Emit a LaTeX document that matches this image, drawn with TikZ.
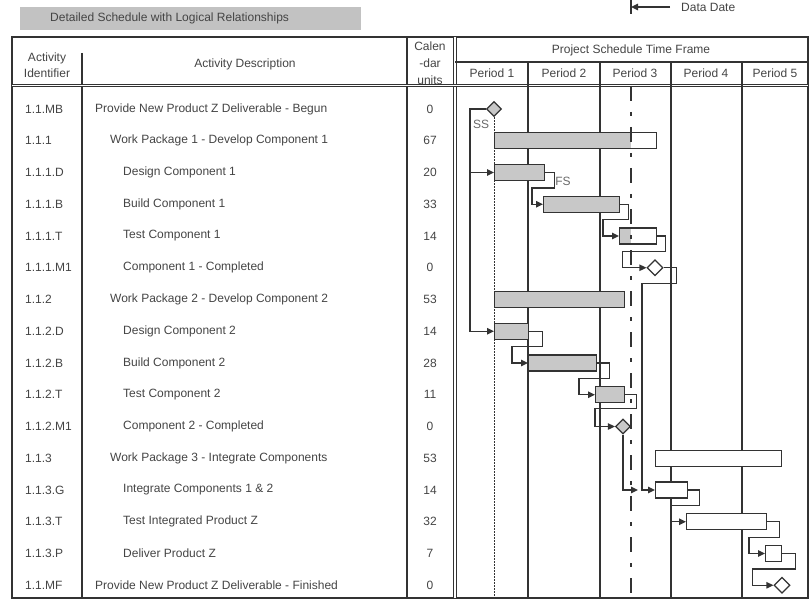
\documentclass[tikz,border=0pt]{standalone}
\usepackage{fontspec}
\setmainfont{Liberation Sans}
\usetikzlibrary{arrows.meta,calc,shapes.geometric}

\definecolor{ink}{HTML}{333333}
\definecolor{txt}{HTML}{444444}
\definecolor{barfill}{HTML}{C8C8C8}
\definecolor{titlefill}{HTML}{C2C2C2}

\begin{document}
\begin{tikzpicture}[x=1pt,y=-1pt,
  font=\fontsize{12}{14}\selectfont,
  every node/.style={text=txt, inner sep=0pt},
  gridline/.style={draw=ink, line width=1.7pt},
  dblline/.style={draw=ink, line width=0.9pt, double=white, double distance=1.4pt},
  periodline/.style={draw=ink, line width=1.3pt},
  bar/.style={draw=ink, line width=1.4pt, minimum height=16pt, anchor=west, inner sep=0pt},
  graybar/.style={bar, fill=barfill},
  whitebar/.style={bar, fill=white},
  ms/.style={diamond, draw=ink, line width=1.3pt, minimum size=15pt, inner sep=0pt},
  link/.style={draw=ink, line width=1.3pt, -{Triangle[length=7pt,width=6.5pt]}},
  datadate/.style={draw=ink, line width=1.3pt, dash pattern=on 15pt off 11pt on 4pt off 11pt},
  startline/.style={draw=ink, line width=1pt, dash pattern=on 1.5pt off 1.5pt},
  rel/.style={text=txt!80}
]
\useasboundingbox (0,0) rectangle (809,599);

% ---- title bar and data date key
\node[fill=titlefill, minimum width=341pt, minimum height=23pt, anchor=north west] (title) at (20,7) {};
\node[anchor=west] (titletext) at ([xshift=30pt]title.west) {Detailed Schedule with Logical Relationships};
\node[anchor=west] (ddlabel) at (681,7) {Data Date};
\coordinate (ddmark) at (631,7);
\draw[draw=ink, line width=1.8pt] (631,0) -- (631,14);
\draw[link] ([xshift=-11pt]ddlabel.west) -- (ddmark);

% ---- table frame
\draw[gridline] (12,37) rectangle (808,598);
\draw[gridline] (82,53) -- (82,598);
\draw[gridline] (407,37) -- (407,598);
\draw[dblline] (455,37) -- (455,598);
\draw[dblline] (12,85.5) -- (808,85.5);
\draw[periodline] (455,62) -- (808,62);
\foreach \x in {528,600,671,742} \draw[periodline] (\x,62) -- (\x,598);

% ---- column headings
\node (hid1) at (47,58) {Activity};
\node (hid2) at (47,73) {Identifier};
\node (hdesc) at (245,64) {Activity Description};
\node (hcal1) at (430,46) {Calen};
\node (hcal2) at (430,63) {-dar};
\node (hcal3) at (430,80) {units};
\node (htime) at (631,50) {Project Schedule Time Frame};
\node (p1) at (492,73) {Period 1};
\node (p2) at (564,73) {Period 2};
\node (p3) at (635,73) {Period 3};
\node (p4) at (706,73) {Period 4};
\node (p5) at (775,73) {Period 5};

% ---- activity rows
\foreach \i/\id/\lvl/\desc/\cal in {
  0/1.1.MB/95/{Provide New Product Z Deliverable - Begun}/0,
  1/1.1.1/110/{Work Package 1 - Develop Component 1}/67,
  2/1.1.1.D/123/{Design Component 1}/20,
  3/1.1.1.B/123/{Build Component 1}/33,
  4/1.1.1.T/123/{Test Component 1}/14,
  5/1.1.1.M1/123/{Component 1 - Completed}/0,
  6/1.1.2/110/{Work Package 2 - Develop Component 2}/53,
  7/1.1.2.D/123/{Design Component 2}/14,
  8/1.1.2.B/123/{Build Component 2}/28,
  9/1.1.2.T/123/{Test Component 2}/11,
  10/1.1.2.M1/123/{Component 2 - Completed}/0,
  11/1.1.3/110/{Work Package 3 - Integrate Components}/53,
  12/1.1.3.G/123/{Integrate Components 1 \& 2}/14,
  13/1.1.3.T/123/{Test Integrated Product Z}/32,
  14/1.1.3.P/123/{Deliver Product Z}/7,
  15/1.1.MF/95/{Provide New Product Z Deliverable - Finished}/0} {
  \node[anchor=west] (id\i) at (25,{109+31.75*\i}) {\id};
  \node[anchor=west] (desc\i) at (\lvl,{109+31.75*\i}) {\desc};
  \node (cal\i) at (430,{109+31.75*\i}) {\cal};
}

% ---- progress shading of partly complete bars (up to the data date)
\fill[barfill] (494,132.75) rectangle (631,148.75);
\fill[barfill] (619,228) rectangle (631,244);

% ---- bars and milestones
\node[ms, fill=barfill] (mb) at (494,109) {};
\node[bar, minimum width=162pt] (wp1) at (494,140.75) {};
\node[graybar, minimum width=50pt] (d1) at (494,172.5) {};
\node[graybar, minimum width=76pt] (b1) at (543,204.25) {};
\node[bar, minimum width=37pt] (t1) at (619,236) {};
\node[ms, fill=white, minimum size=16pt] (m1) at (655,267.75) {};
\node[graybar, minimum width=130pt] (wp2) at (494,299.5) {};
\node[graybar, minimum width=34pt] (d2) at (494,331.25) {};
\node[graybar, minimum width=68pt] (b2) at (528,363) {};
\node[graybar, minimum width=29pt] (t2) at (595,394.75) {};
\node[ms, fill=barfill] (m2) at (623,426.5) {};
\node[whitebar, minimum width=126pt] (wp3) at (655,458.25) {};
\node[whitebar, minimum width=32pt] (g) at (655,490) {};
\node[whitebar, minimum width=80pt] (t3) at (686,521.75) {};
\node[whitebar, minimum width=16pt] (p) at (765,553.5) {};
\node[ms, fill=white, minimum size=16pt] (mf) at (782,585.25) {};

% ---- project start reference and data date
\draw[startline] (mb.south) -- (mb.south |- 0,598);
\draw[datadate] (631,86) -- (631,598);

% ---- logical relationships
\coordinate (ssx) at (470,109);
\draw[link] (mb.west) -- (ssx) |- (d2.west);
\draw[link] (ssx |- d1.west) -- (d1.west);
\node[rel] (sslabel) at (481,124) {SS};
\node[rel] (fslabel) at (563,181) {FS};

\draw[link] (d1.east) -- ++(9,0) -- ++(0,15.5) -| ([xshift=-11pt]b1.west) -- (b1.west);
\draw[link] (b1.east) -- ++(8,0) -- ++(0,15.5) -| ([xshift=-16pt]t1.west) -- (t1.west);
\draw[link] (t1.east) -- ++(8,0) -- ++(0,15.5) -| ([xshift=-24pt]m1.west) -- (m1.west);

\draw[link] (d2.east) -- ++(13,0) -- ++(0,15.5) -| ([xshift=-16pt]b2.west) -- (b2.west);
\draw[link] (b2.east) -- ++(12,0) -- ++(0,15.5) -| ([xshift=-16pt]t2.west) -- (t2.west);
\draw[link] (t2.east) -- ++(11,0) -- ++(0,14) -| ([xshift=-20pt]m2.west) -- (m2.west);

\coordinate (join) at (642,490);
\draw[link] (m1.east) -- ++(13,0) -- ++(0,15.5) -| (join) -- (g.west);
\draw[link, shorten >=4pt] (m2.south) |- (join);

\draw[link] (g.east) -- ++(11,0) -- ++(0,15.5) -| ([xshift=-15pt]t3.west) -- (t3.west);
\draw[link] (t3.east) -- ++(12,0) -- ++(0,15.5) -| ([xshift=-16pt]p.west) -- (p.west);
\draw[link] (p.east) -- ++(13,0) -- ++(0,15.5) -| ([xshift=-21pt]mf.west) -- (mf.west);
\end{tikzpicture}
\end{document}
